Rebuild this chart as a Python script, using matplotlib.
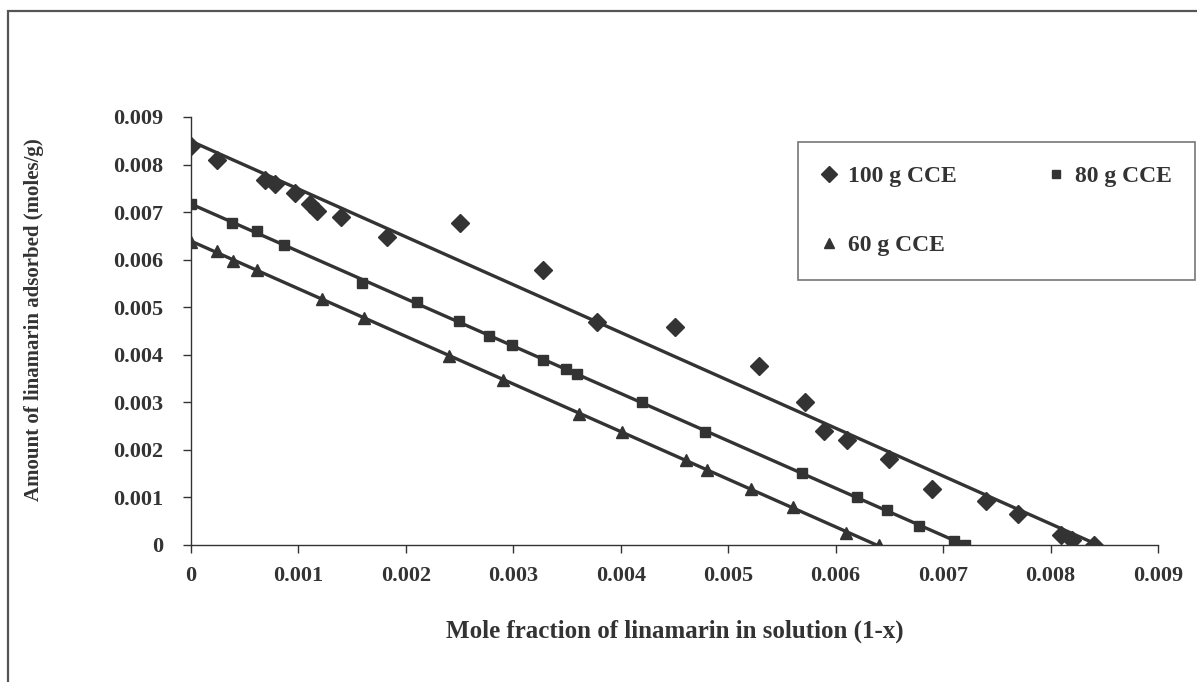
import numpy as np
import matplotlib
matplotlib.use("Agg")
import matplotlib.pyplot as plt
from matplotlib.patches import Rectangle

# ---- data ----
x_100 = [0.0, 0.00024, 0.00069, 0.00078, 0.00097, 0.00111, 0.00117, 0.0014, 0.00182, 0.0025,
         0.00328, 0.00378, 0.0045, 0.00529, 0.00571, 0.00589, 0.00611, 0.0065, 0.0069, 0.0074,
         0.0077, 0.0081, 0.0082, 0.0084]
y_100 = [0.00838, 0.00810, 0.00768, 0.00760, 0.00740, 0.00718, 0.00702, 0.00690, 0.00648, 0.00678,
         0.00578, 0.00468, 0.00458, 0.00376, 0.00300, 0.00240, 0.00220, 0.00180, 0.00118, 0.00093,
         0.00065, 0.00020, 0.00010, 0.0]

x_80 = [0.0, 0.00038, 0.00061, 0.00087, 0.00159, 0.0021, 0.00249, 0.00277, 0.00299, 0.00328,
        0.00349, 0.00359, 0.0042, 0.00478, 0.00569, 0.0062, 0.00648, 0.00678, 0.0071, 0.0072]
y_80 = [0.00718, 0.00678, 0.00660, 0.00630, 0.00550, 0.00510, 0.00472, 0.00440, 0.00420, 0.00390,
        0.00370, 0.00360, 0.00300, 0.00238, 0.00151, 0.00101, 0.00074, 0.00040, 0.00008, 0.0]

x_60 = [0.0, 0.00024, 0.00039, 0.00061, 0.00122, 0.00161, 0.0024, 0.0029, 0.00361, 0.00401,
        0.00461, 0.0048, 0.00521, 0.0056, 0.0061, 0.0064]
y_60 = [0.00638, 0.00618, 0.00598, 0.00578, 0.00518, 0.00478, 0.00398, 0.00348, 0.00276, 0.00238,
        0.00179, 0.00157, 0.00117, 0.00079, 0.00026, 0.0]

labels = ["100 g CCE", "80 g CCE", "60 g CCE"]
x_ticks = [0, 0.001, 0.002, 0.003, 0.004, 0.005, 0.006, 0.007, 0.008, 0.009]
y_ticks = [0, 0.001, 0.002, 0.003, 0.004, 0.005, 0.006, 0.007, 0.008, 0.009]
x_ticklabels = ["0", "0.001", "0.002", "0.003", "0.004", "0.005", "0.006", "0.007", "0.008", "0.009"]
y_ticklabels = ["0", "0.001", "0.002", "0.003", "0.004", "0.005", "0.006", "0.007", "0.008", "0.009"]
x_title = "Mole fraction of linamarin in solution (1-x)"
y_title = "Amount of linamarin adsorbed (moles/g)"

# ---- style ----
INK = "#333333"
plt.rcParams["font.family"] = ["Liberation Serif", "DejaVu Serif"]
plt.rcParams["font.weight"] = "bold"

W, H = 1197, 682
fig = plt.figure(figsize=(W / 100, H / 100), dpi=100)
fig.patch.set_facecolor("white")

# outer chart-area border (only left and top edges visible in reference)
fig.add_artist(Rectangle((8 / W, -0.05), 1.2, 1 - 11 / H + 0.05, transform=fig.transFigure,
                         fill=False, edgecolor="#555555", linewidth=1.6))

ax = fig.add_axes([191 / W, 137 / H, (1158 - 191) / W, (545 - 117) / H])

series = [
    (x_100, y_100, "D", 9, labels[0]),
    (x_80, y_80, "s", 6.5, labels[1]),
    (x_60, y_60, "^", 9, labels[2]),
]
handles = {}
for xs, ys, mk, ms, lab in series:
    xs = np.asarray(xs)
    ys = np.asarray(ys)
    h, = ax.plot(xs, ys, linestyle="none", marker=mk, markersize=ms, color=INK,
                 markeredgecolor=INK, label=lab, zorder=3)
    handles[lab] = h
    k, b = np.polyfit(xs, ys, 1)
    xf = np.array([xs.min(), xs.max()])
    ax.plot(xf, k * xf + b, color=INK, linewidth=2.4, zorder=2)

ax.set_xlim(0, 0.009)
ax.set_ylim(0, 0.009)
ax.set_xticks(x_ticks)
ax.set_xticklabels(x_ticklabels)
ax.set_yticks(y_ticks)
ax.set_yticklabels(y_ticklabels)
for s in ["top", "right"]:
    ax.spines[s].set_visible(False)
for s in ["left", "bottom"]:
    ax.spines[s].set_color(INK)
    ax.spines[s].set_linewidth(1.0)
ax.tick_params(axis="both", direction="out", length=6, width=1.0, color=INK,
               labelsize=16, labelcolor=INK)
ax.tick_params(axis="x", pad=9)
ax.tick_params(axis="y", pad=14)
for t in ax.get_xticklabels() + ax.get_yticklabels():
    t.set_fontweight("bold")

ax.set_xlabel(x_title, fontsize=18, fontweight="bold", color=INK, labelpad=24)
fig.text(34 / W, 1 - 320 / H, y_title, rotation=90, ha="center", va="center",
         fontsize=15, fontweight="bold", color=INK)

leg = fig.legend([handles[labels[0]], handles[labels[2]], handles[labels[1]]],
                 [labels[0], labels[2], labels[1]],
                 ncol=2, loc="upper left",
                 bbox_to_anchor=(798 / W, 1 - 276 / H, 397 / W, 134 / H),
                 mode="expand",
                 bbox_transform=fig.transFigure, frameon=True, fancybox=False,
                 edgecolor="#555555", fontsize=17, handlelength=0.6, handletextpad=0.5,
                 columnspacing=0.4, labelspacing=2.0, borderpad=1.0, borderaxespad=0,
                 markerscale=0.85)
leg.get_frame().set_linewidth(1.2)
for t in leg.get_texts():
    t.set_color(INK)
    t.set_fontweight("bold")

fig.savefig("out.png", dpi=100, facecolor="white")
